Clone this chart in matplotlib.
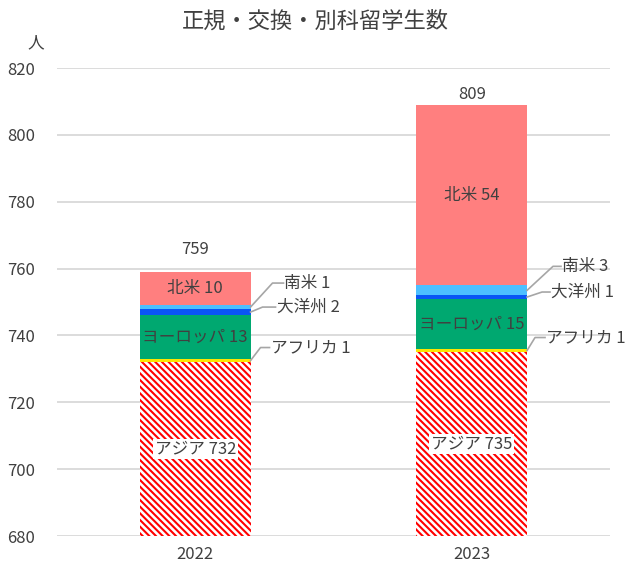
import matplotlib.pyplot as plt
import numpy as np

plt.rcParams['font.family'] = ['Noto Sans CJK JP', 'DejaVu Sans']
plt.rcParams['hatch.linewidth'] = 1.5

# data
years = ["2022", "2023"]
regions = ["アジア", "アフリカ", "ヨーロッパ", "大洋州", "南米", "北米"]
asia = [732, 735]
africa = [1, 1]
europe = [13, 15]
oceania = [2, 1]
south_america = [1, 3]
north_america = [10, 54]
totals = [759, 809]

series = [asia, africa, europe, oceania, south_america, north_america]
colors = ["white", "#FFE600", "#00A870", "#0A55F5", "#4DBFFF", "#FF7F7F"]

ymin, ymax = 680, 820
text_color = "#404040"
fs = 12

fig = plt.figure(figsize=(6.25, 5.72), dpi=100)
ax = fig.add_axes([0.0912, 0.0629, 0.8848, 0.8181])

x = np.arange(len(years))
width = 0.4
bottom = np.zeros(len(years))
for i, (name, vals) in enumerate(zip(regions, series)):
    vals = np.array(vals)
    if i == 0:
        ax.bar(x, vals, width, bottom=bottom, color="white", edgecolor="red",
               hatch="\\" * 5, linewidth=0, zorder=3)
    else:
        ax.bar(x, vals, width, bottom=bottom, color=colors[i], linewidth=0, zorder=3)
    bottom += vals

# inside labels (Asia, Europe, North America)
for j in range(len(years)):
    ax.text(x[j], (ymin + asia[j]) / 2, f"アジア {asia[j]}", ha="center", va="center",
            fontsize=fs, color=text_color, zorder=5,
            bbox=dict(boxstyle="square,pad=0.1", facecolor="white", edgecolor="none"))
    base = asia[j] + africa[j]
    ax.text(x[j], base + europe[j] / 2, f"ヨーロッパ {europe[j]}", ha="center",
            va="center", fontsize=fs, color=text_color, zorder=5)
    base = asia[j] + africa[j] + europe[j] + oceania[j] + south_america[j]
    ax.text(x[j], base + north_america[j] / 2, f"北米 {north_america[j]}", ha="center",
            va="center", fontsize=fs, color=text_color, zorder=5)

# outside labels with leader lines: (elbow dx px, label dx px, label dy px)
px = 277.0                  # pixels per category unit
py = 468.0 / (ymax - ymin)  # pixels per person
leaders = {
    0: {1: (10, 20, 13), 3: (12, 26, 5), 4: (22, 34, 24)},
    1: {1: (8, 19, 13), 3: (15, 24, 5), 4: (26, 35, 24)},
}
for j in range(len(years)):
    edge = x[j] + width / 2
    cum = np.cumsum([s[j] for s in series])
    for k, (d1, d2, dy) in leaders[j].items():
        val = series[k][j]
        mid = cum[k] - val / 2
        ly = mid + dy / py
        ax.plot([edge, edge + d1 / px, edge + d2 / px - 1 / px], [mid, ly, ly],
                color="#A6A6A6", linewidth=1.2, zorder=4, clip_on=False)
        ax.text(edge + d2 / px, ly, f"{regions[k]} {val}", ha="left", va="center",
                fontsize=fs, color=text_color, zorder=5)

# totals
total_offsets = [22, 10]
for j in range(len(years)):
    ax.text(x[j], totals[j] + total_offsets[j] / py, str(totals[j]), ha="center",
            va="center", fontsize=fs, color=text_color)

ax.set_xlim(-0.5, 1.5)
ax.set_ylim(ymin, ymax)
ax.set_yticks(np.arange(680, 821, 20))
ax.set_xticks(x)
ax.set_xticklabels(years)
ax.tick_params(axis="both", length=0, labelsize=fs, colors=text_color)
ax.tick_params(axis="y", pad=16)
ax.tick_params(axis="x", pad=7)
ax.yaxis.grid(True, color="#D9D9D9", linewidth=1.3, zorder=0)
ax.set_axisbelow(True)
for spine in ax.spines.values():
    spine.set_visible(False)

fig.text(0.505, 0.963, "正規・交換・別科留学生数", ha="center", va="center",
         fontsize=16, color=text_color)
fig.text(0.058, 0.925, "人", ha="center", va="center", fontsize=fs, color=text_color)

fig.savefig("out.png", dpi=100)
